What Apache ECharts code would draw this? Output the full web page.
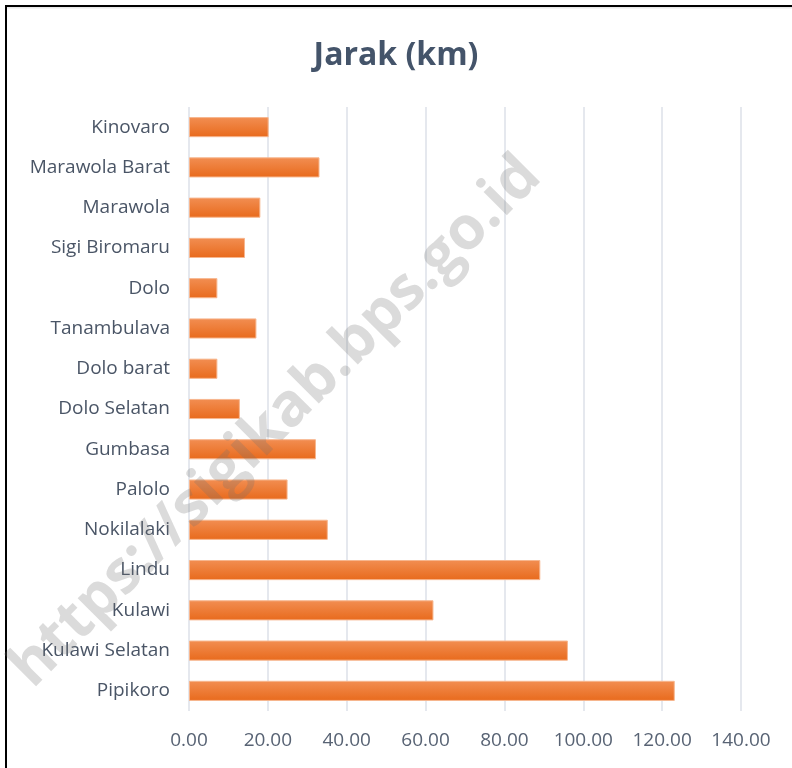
<!DOCTYPE html>
<html><head><meta charset="utf-8">
<script src="https://cdn.jsdelivr.net/npm/echarts@6/dist/echarts.min.js"></script>
<style>html,body{margin:0;padding:0;background:#fff}#c{width:792px;height:768px}</style>
</head><body><div id="c"></div>
<script>
const titleText = 'Jarak (km)';
const categories = ['Kinovaro','Marawola Barat','Marawola','Sigi Biromaru','Dolo','Tanambulava','Dolo barat','Dolo Selatan','Gumbasa','Palolo','Nokilalaki','Lindu','Kulawi','Kulawi Selatan','Pipikoro'];
const distances = [20.2, 33.1, 18.1, 14.2, 7.2, 17.1, 7.2, 12.9, 32.2, 25.0, 35.2, 89.1, 62.0, 96.1, 123.2];
const xTicks = {min: 0, max: 140, interval: 20};
const watermark = 'https://sigikab.bps.go.id';

const chart = echarts.init(document.getElementById('c'), null, {renderer: 'canvas'});
const font = '"Open Sans", "Noto Sans", sans-serif';
chart.setOption({
  backgroundColor: '#ffffff',
  animation: false,
  title: {
    text: titleText, left: 'center', top: 35,
    textStyle: {fontFamily: font, fontSize: 32, fontWeight: 'bold', color: '#44546A'}
  },
  grid: {left: 189, right: 51, top: 107, bottom: 57, containLabel: false},
  xAxis: {
    type: 'value', min: xTicks.min, max: xTicks.max, interval: xTicks.interval,
    axisLine: {show: false}, axisTick: {show: false},
    axisLabel: {fontFamily: font, fontSize: 19, color: '#586374', margin: 20,
      formatter: v => v.toFixed(2)},
    splitLine: {show: true, lineStyle: {color: '#dde1e9', width: 1.5}}
  },
  yAxis: {
    type: 'category', data: categories, inverse: true,
    axisLine: {show: false}, axisTick: {show: false},
    axisLabel: {fontFamily: font, fontSize: 19, color: '#4a5566', margin: 19},
    splitLine: {show: false}
  },
  series: [{
    type: 'bar', data: distances, barCategoryGap: '50%',
    itemStyle: {
      color: new echarts.graphic.LinearGradient(0, 0, 0, 1, [
        {offset: 0, color: '#F28E52'}, {offset: 1, color: '#E86A1C'}
      ]),
      borderColor: '#F7B68E', borderWidth: 1
    }
  }],
  graphic: [
    {type: 'rect', shape: {x: 5, y: 5, width: 2, height: 763}, style: {fill: '#000'}, z: 100},
    {type: 'rect', shape: {x: 5, y: 5, width: 787, height: 2}, style: {fill: '#000'}, z: 100},
    {type: 'rect', shape: {x: 7, y: 7, width: 785, height: 1.5}, style: {fill: '#e8e8e8'}, z: 100},
    {type: 'text', x: 276, y: 422, rotation: Math.PI / 4, z: 100,
      style: {text: watermark, fontFamily: '"Open Sans", sans-serif', fontSize: 60, fontWeight: 'bold',
        fill: 'rgba(110,110,110,0.25)', align: 'center', verticalAlign: 'middle'}}
  ]
});
</script></body></html>
